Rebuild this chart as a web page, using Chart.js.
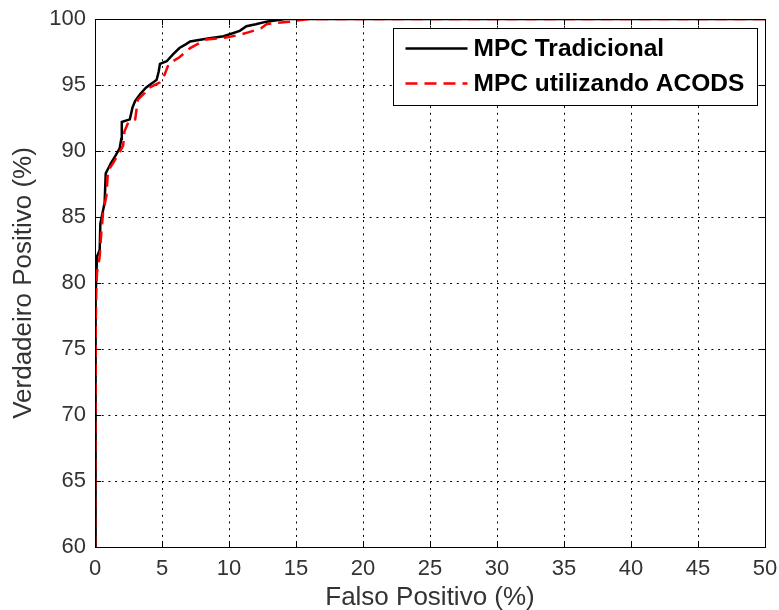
<!DOCTYPE html>
<html lang="pt">
<head>
<meta charset="UTF-8">
<title>Curva ROC - MPC</title>
<script src="https://cdn.jsdelivr.net/npm/chart.js"></script>
<style>
  html, body { margin: 0; padding: 0; background: #fff; }
  canvas { display: block; }
</style>
</head>
<body>
<canvas id="roc" width="779" height="610"></canvas>
<script>
// ROC: falso positivo (%) x verdadeiro positivo (%)
const tradFP = [0, 0.03, 0.06, 0.1, 0.15, 0.35, 0.4, 0.5, 0.72, 0.8, 0.9, 1.2, 1.5, 1.84, 1.96, 2.0, 2.3, 2.6, 2.8, 3.0, 3.36, 3.8, 4.35, 4.6, 4.75, 4.85, 5.35, 5.8, 6.3, 6.8, 7.1, 8.3, 9.6, 10.8, 11.3, 12.0, 12.8, 14.2, 50];
const tradTP = [60, 72, 79, 80.5, 82, 82.5, 84.5, 85, 86.1, 88.3, 88.5, 89.1, 89.6, 90.2, 90.9, 92.2, 92.3, 92.4, 93.3, 93.8, 94.3, 94.8, 95.2, 95.4, 96.0, 96.6, 96.8, 97.3, 97.8, 98.1, 98.3, 98.5, 98.7, 99.1, 99.45, 99.6, 99.8, 100, 100];

const acodsFP = [0, 0.03, 0.06, 0.1, 0.15, 0.35, 0.47, 0.6, 0.85, 0.97, 1.3, 1.6, 2.1, 2.2, 2.5, 3.0, 3.2, 3.7, 3.86, 4.85, 5.2, 5.5, 6.3, 7.1, 8.3, 9.8, 10.8, 11.3, 11.8, 12.4, 12.8, 13.4, 14.5, 16, 50];
const acodsTP = [60, 70, 77, 79.8, 80.8, 82, 83.8, 85.3, 86.6, 88.5, 89.0, 89.5, 90.4, 91.5, 92.2, 92.4, 93.9, 94.4, 94.7, 95.2, 95.8, 96.6, 97.1, 97.8, 98.45, 98.6, 98.8, 98.95, 99.1, 99.3, 99.6, 99.7, 99.8, 100, 100];

const seriesNames = ['MPC Tradicional', 'MPC utilizando ACODS'];
const xTickStep = 5;
const yTickStep = 5;

const FONT = '"Liberation Sans", Arial, sans-serif';
const TEXT = '#333333';

function toPoints(xs, ys) {
  return xs.map((x, i) => ({ x: x, y: ys[i] }));
}

// caixa do eixo + marcas de escala para dentro (estilo MATLAB)
const boxTicks = {
  id: 'boxTicks',
  afterDatasetsDraw(chart) {
    const { ctx, chartArea: a, scales } = chart;
    const len = 6;
    ctx.save();
    ctx.strokeStyle = '#000';
    ctx.lineWidth = 1;
    ctx.beginPath();
    scales.x.ticks.forEach(t => {
      const px = Math.round(scales.x.getPixelForValue(t.value)) + 0.5;
      ctx.moveTo(px, a.bottom); ctx.lineTo(px, a.bottom - len);
      ctx.moveTo(px, a.top); ctx.lineTo(px, a.top + len);
    });
    scales.y.ticks.forEach(t => {
      const py = Math.round(scales.y.getPixelForValue(t.value)) + 0.5;
      ctx.moveTo(a.left, py); ctx.lineTo(a.left + len, py);
      ctx.moveTo(a.right, py); ctx.lineTo(a.right - len, py);
    });
    ctx.stroke();
    ctx.strokeRect(Math.round(a.left) + 0.5, Math.round(a.top) + 0.5,
      Math.round(a.right - a.left), Math.round(a.bottom - a.top));
    ctx.restore();
  }
};

// legenda dentro da área do gráfico, canto superior direito
const boxLegend = {
  id: 'boxLegend',
  afterDraw(chart) {
    const { ctx, chartArea: a } = chart;
    const w = 364, h = 77;
    const x0 = Math.round(a.right - 8 - w) + 0.5;
    const y0 = Math.round(a.top + 9) + 0.5;
    ctx.save();
    ctx.fillStyle = '#fff';
    ctx.fillRect(x0, y0, w, h);
    ctx.strokeStyle = '#000';
    ctx.lineWidth = 1;
    ctx.strokeRect(x0, y0, w, h);
    ctx.font = 'bold 24.5px ' + FONT;
    ctx.textBaseline = 'middle';
    chart.data.datasets.forEach((ds, i) => {
      const cy = y0 + 20 + i * 35;
      ctx.beginPath();
      ctx.strokeStyle = ds.borderColor;
      ctx.lineWidth = ds.borderWidth;
      ctx.setLineDash(ds.borderDash || []);
      ctx.moveTo(x0 + 12, cy);
      ctx.lineTo(x0 + 74, cy);
      ctx.stroke();
      ctx.setLineDash([]);
      ctx.fillStyle = '#000';
      ctx.fillText(ds.label, x0 + 80, cy + 1);
    });
    ctx.restore();
  }
};

// sem folga extra para os rótulos das pontas: a área fica fixa pelo layout.padding
function fixX(s) { s.height = 63; s.paddingLeft = 0; s.paddingRight = 0; }
function fixY(s) { s.width = 95; s.paddingTop = 0; s.paddingBottom = 0; }

const tickFont = { family: FONT, size: 22 };
const titleFont = { family: FONT, size: 26, lineHeight: 1 };

new Chart(document.getElementById('roc'), {
  type: 'line',
  data: {
    datasets: [
      {
        label: seriesNames[0],
        data: toPoints(tradFP, tradTP),
        borderColor: '#000000',
        borderWidth: 2.5,
        pointRadius: 0,
        tension: 0,
        order: 1
      },
      {
        label: seriesNames[1],
        data: toPoints(acodsFP, acodsTP),
        borderColor: '#ff0000',
        borderWidth: 2.5,
        borderDash: [12, 7],
        pointRadius: 0,
        tension: 0,
        order: 0
      }
    ]
  },
  options: {
    responsive: false,
    animation: false,
    events: [],
    layout: { padding: { top: 19, right: 14, left: 0, bottom: 0 } },
    plugins: { legend: { display: false }, tooltip: { enabled: false } },
    scales: {
      x: {
        type: 'linear',
        min: 0, max: 50,
        afterFit: fixX,
        ticks: { stepSize: xTickStep, padding: 9, color: TEXT, font: tickFont },
        grid: { color: '#000', lineWidth: 1, drawTicks: false },
        border: { display: false, dash: [2, 4.7] },
        title: { display: true, text: 'Falso Positivo (%)', color: TEXT, font: titleFont, padding: { top: 0, bottom: -1 } }
      },
      y: {
        type: 'linear',
        min: 60, max: 100,
        afterFit: fixY,
        ticks: { stepSize: yTickStep, padding: 9, color: TEXT, font: tickFont },
        grid: { color: '#000', lineWidth: 1, drawTicks: false },
        border: { display: false, dash: [2, 4.7] },
        title: { display: true, text: 'Verdadeiro Positivo (%)', color: TEXT, font: titleFont, padding: { top: 11, bottom: 0 } }
      }
    }
  },
  plugins: [boxTicks, boxLegend]
});
</script>
</body>
</html>
